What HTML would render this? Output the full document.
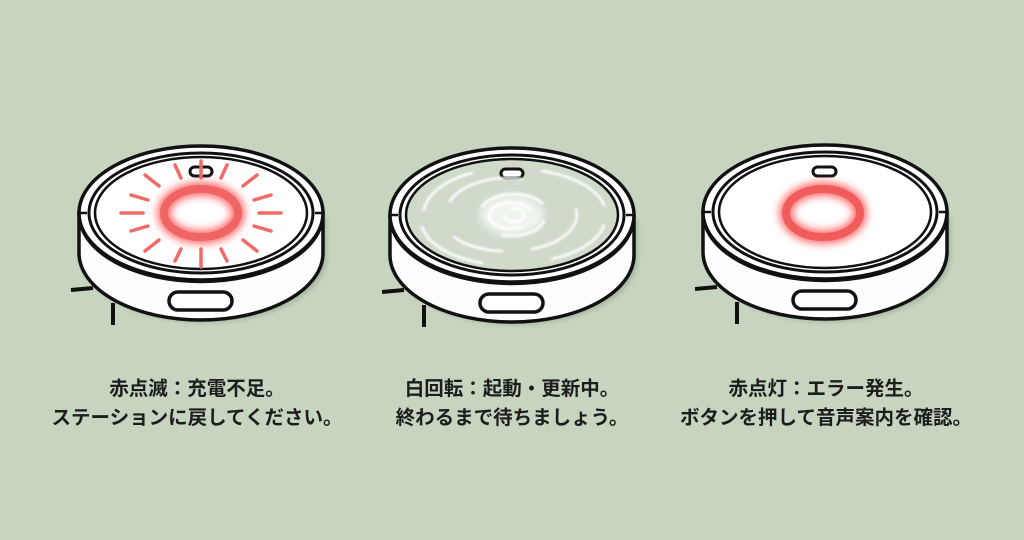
<!DOCTYPE html>
<html><head><meta charset="utf-8"><style>
html,body{margin:0;padding:0;background:#c6d4c0;}
.t{position:absolute;width:340px;text-align:center;font-family:"Liberation Sans","Noto Sans CJK JP",sans-serif;font-weight:bold;font-size:19.5px;color:#1d1d1d;line-height:29px;}
</style></head><body>
<div style="position:relative;width:1024px;height:540px;overflow:hidden;background:#c6d4c0;">
<svg width="1024" height="540" style="position:absolute;left:0;top:0">
<defs>
<filter id="g" x="-50%" y="-50%" width="200%" height="200%"><feGaussianBlur stdDeviation="4"/></filter>
<filter id="g2" x="-50%" y="-50%" width="200%" height="200%"><feGaussianBlur stdDeviation="1"/></filter>
<filter id="sh" x="-20%" y="-20%" width="140%" height="140%"><feGaussianBlur stdDeviation="2"/></filter>
<g id="body" stroke="#111" stroke-width="3.5" fill="#fff">
<path d="M-118,4 L-118,44 A122,66 0 0 0 126,44 L126,4 Z" fill="#98a792" stroke="none" opacity="0.6" filter="url(#sh)"/>
<path d="M-122,0 L-122,40 A122,67 0 0 0 122,40 L122,0 Z" fill="#fdfdfd"/>
<ellipse cx="0" cy="0" rx="122" ry="67"/>
<path d="M-122,2 A122,67 0 0 0 122,2" fill="none" stroke-width="2.5"/>
<path d="M-122,0 L-114,0 M122,0 L114,0" stroke-width="2.5"/>
<ellipse cx="0" cy="0" rx="112" ry="60" fill="none" stroke-width="3"/>
<rect x="-32" y="79" width="63" height="18" rx="9"/>
<path d="M-130,77 L-108,75 M-88,90 L-88,112" fill="none" stroke-width="4"/>
</g>
</defs>
<!-- robot 1 -->
<g transform="translate(201,213)">
<use href="#body"/>
<ellipse cx="0" cy="0" rx="106" ry="56" fill="#fff" stroke="#111" stroke-width="2.5"/>
<rect x="-11" y="-46" width="22" height="9" rx="4.5" fill="#fff" stroke="#111" stroke-width="3"/>
<g stroke="#f06a66" stroke-width="3.5" stroke-linecap="round">
<line x1="0" y1="-52" x2="0" y2="-35"/><line x1="0" y1="36" x2="0" y2="54"/>
<line x1="-80" y1="0" x2="-58" y2="0"/><line x1="58" y1="0" x2="80" y2="0"/>
<line x1="-26" y1="-48" x2="-20" y2="-35"/><line x1="26" y1="-48" x2="20" y2="-35"/>
<line x1="-26" y1="48" x2="-20" y2="36"/><line x1="26" y1="48" x2="20" y2="36"/>
<line x1="-56" y1="-38" x2="-42" y2="-27"/><line x1="56" y1="-38" x2="42" y2="-27"/>
<line x1="-56" y1="38" x2="-42" y2="27"/><line x1="56" y1="38" x2="42" y2="27"/>
<line x1="-70" y1="-18" x2="-53" y2="-13"/><line x1="70" y1="-18" x2="53" y2="-13"/>
<line x1="-70" y1="18" x2="-53" y2="13"/><line x1="70" y1="18" x2="53" y2="13"/>
</g>
<ellipse cx="0" cy="0" rx="37" ry="24" fill="none" stroke="#ff7070" stroke-width="14" filter="url(#g)"/>
<ellipse cx="0" cy="0" rx="37" ry="24" fill="none" stroke="#f06464" stroke-width="8"/>
</g>
<!-- robot 2 -->
<g transform="translate(512,215)">
<use href="#body"/>
<ellipse cx="0" cy="0" rx="106" ry="56" fill="#cfdacb" stroke="#111" stroke-width="2.5"/>
<rect x="-11" y="-46" width="22" height="9" rx="4.5" fill="#fff" stroke="#111" stroke-width="3"/>
<ellipse cx="0" cy="0" rx="32" ry="20" fill="#fff" opacity="0.7" filter="url(#g)"/>
<g fill="none" stroke="#fff" stroke-width="2.5" stroke-linecap="round" filter="url(#g2)">
<path d="M-8,0 A10,7 0 1 0 0,-7"/>
<path d="M18,-6 A22,13 0 1 0 10,12"/>
<path d="M-30,-8 A34,20 0 0 1 30,-12"/>
<path d="M32,6 A34,20 0 0 1 -10,20"/>
<path d="M-62,-14 A62,36 0 0 1 10,-36"/>
<path d="M64,-6 A64,36 0 0 1 20,34"/>
<path d="M-58,22 A64,36 0 0 0 -10,36"/>
<path d="M-88,-5 A90,46 0 0 1 -40,-42"/>
<path d="M30,-44 A90,46 0 0 1 92,-10"/>
<path d="M92,10 A90,46 0 0 1 40,44"/>
<path d="M-90,12 A90,46 0 0 0 -30,48"/>
</g>
</g>
<!-- robot 3 -->
<g transform="translate(825,212)">
<use href="#body"/>
<ellipse cx="0" cy="0" rx="106" ry="56" fill="#fff" stroke="#111" stroke-width="2.5"/>
<rect x="-12" y="-45" width="23" height="9" rx="4.5" fill="#fff" stroke="#111" stroke-width="3"/>
<ellipse cx="-2" cy="1" rx="37" ry="24" fill="none" stroke="#ff7070" stroke-width="14" filter="url(#g)"/>
<ellipse cx="-2" cy="1" rx="37" ry="24" fill="none" stroke="#f05c5c" stroke-width="8"/>
</g>
</svg>
<div class="t" style="left:27px;top:375px">赤点滅：充電不足。<br>ステーションに戻してください。</div>
<div class="t" style="left:342px;top:375px">白回転：起動・更新中。<br>終わるまで待ちましょう。</div>
<div class="t" style="left:656px;top:375px">赤点灯：エラー発生。<br>ボタンを押して音声案内を確認。</div>
</div>
</body></html>
